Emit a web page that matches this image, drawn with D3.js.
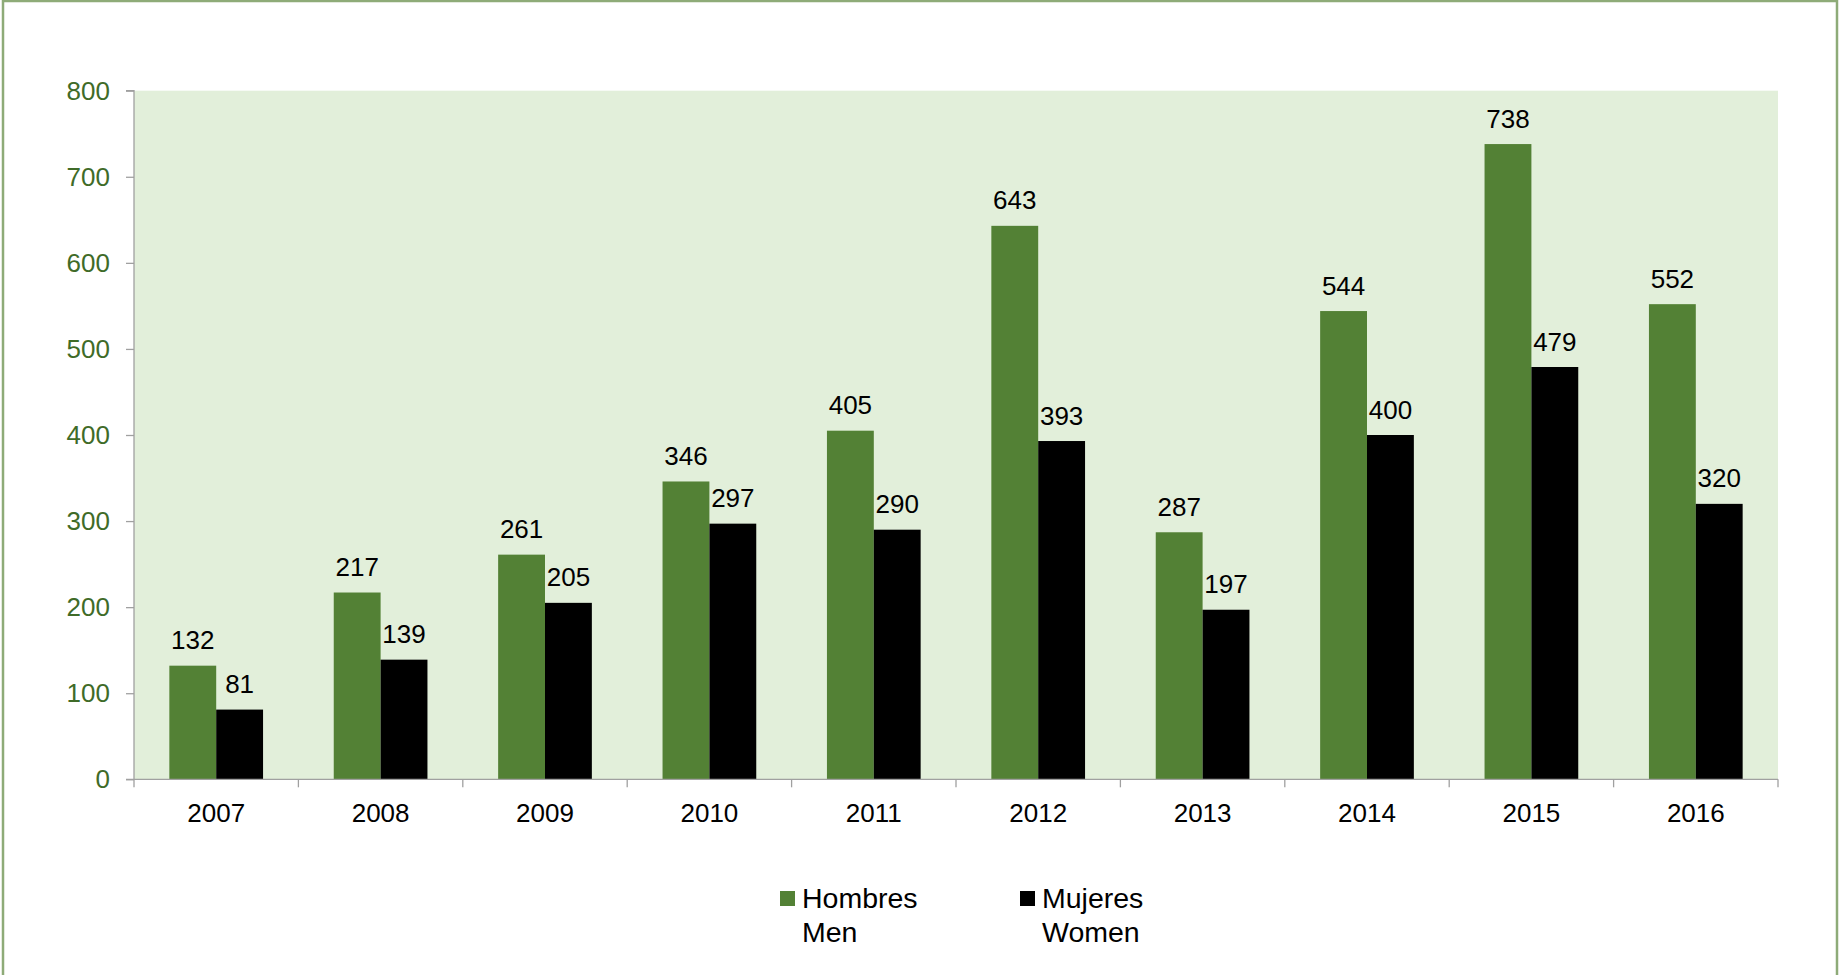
<!DOCTYPE html>
<html>
<head>
<meta charset="utf-8">
<script src="https://cdn.jsdelivr.net/npm/d3@7"></script>
<style>
html,body{margin:0;padding:0;background:#fff;}
svg{display:block;font-family:"Liberation Sans",Arial,sans-serif;}
</style>
</head>
<body>
<svg id="chart" width="1839" height="975"></svg>
<script>
const years = ["2007","2008","2009","2010","2011","2012","2013","2014","2015","2016"];
const men = [132,217,261,346,405,643,287,544,738,552];
const women = [81,139,205,297,290,393,197,400,479,320];
const yTicks = [0,100,200,300,400,500,600,700,800];
const seriesNames = [["Hombres","Men"],["Mujeres","Women"]];
const seriesColors = ["#538135","#000000"];

const svg = d3.select("#chart");
const W = 1839, H = 975;
const m = {left:134, right:1778, top:90.7, bottom:779.3};

// outer border
svg.append("rect").attr("x",3).attr("y",1).attr("width",1834).attr("height",990)
  .attr("fill","none").attr("stroke","#8eab78").attr("stroke-width",2.5);

// plot area background
svg.append("rect").attr("x",m.left).attr("y",m.top)
  .attr("width",m.right-m.left).attr("height",m.bottom-m.top).attr("fill","#e2efda");

const x = d3.scaleBand().domain(years).range([m.left,m.right]).paddingInner(0.43).paddingOuter(0.215);
const y = d3.scaleLinear().domain([0,800]).range([m.bottom,m.top]);
const bw = x.bandwidth()/2;

const data = years.map((yr,i)=>({yr, vals:[men[i],women[i]]}));

const g = svg.append("g");
data.forEach(d=>{
  d.vals.forEach((v,j)=>{
    const bx = x(d.yr)+j*bw;
    g.append("rect").attr("x",bx).attr("y",y(v)).attr("width",bw).attr("height",y(0)-y(v))
      .attr("fill",seriesColors[j]);
    g.append("text").attr("x",bx+bw/2).attr("y",y(v)-16.5).attr("text-anchor","middle")
      .attr("font-size",26).attr("fill","#000").text(v);
  });
});

// y axis
const yAxis = d3.axisLeft(y).tickValues(yTicks).tickSize(8).tickPadding(16).tickFormat(d3.format("d"));
const ya = svg.append("g").attr("transform",`translate(${m.left},0)`).call(yAxis);
ya.select(".domain").attr("stroke","#a0a0a0").attr("stroke-width",1.3).attr("d",`M-8,${m.top}H0V${m.bottom}H-8`);
ya.selectAll(".tick line").attr("stroke","#a0a0a0").attr("stroke-width",1.3);
ya.selectAll(".tick text").attr("font-size",26).attr("fill","#3f6b28")
  .attr("font-family","Liberation Sans, Arial, sans-serif").attr("dy","0.33em");

// x axis
const xAxis = d3.axisBottom(x).tickSize(0).tickPadding(24);
const xa = svg.append("g").attr("transform",`translate(0,${m.bottom})`).call(xAxis);
xa.select(".domain").attr("stroke","#a0a0a0").attr("stroke-width",1.3).attr("d",`M${m.left},0H${m.right}`);
xa.selectAll(".tick text").attr("font-size",26).attr("fill","#000")
  .attr("font-family","Liberation Sans, Arial, sans-serif").attr("dy","0.71em");
const step = x.step();
const bounds = d3.range(years.length+1).map(i=>m.left + i*(m.right-m.left)/years.length);
xa.selectAll(".bound").data(bounds).enter().append("line")
  .attr("x1",d=>d).attr("x2",d=>d).attr("y1",0).attr("y2",8)
  .attr("stroke","#a0a0a0").attr("stroke-width",1.3);

// legend
const legX = [780,1020];
seriesNames.forEach((nm,j)=>{
  const lg = svg.append("g");
  lg.append("rect").attr("x",legX[j]).attr("y",891).attr("width",15).attr("height",15).attr("fill",seriesColors[j]);
  lg.append("text").attr("x",legX[j]+22).attr("y",908).attr("font-size",28.5).attr("fill","#000").text(nm[0]);
  lg.append("text").attr("x",legX[j]+22).attr("y",941.5).attr("font-size",28.5).attr("fill","#000").text(nm[1]);
});
</script>
</body>
</html>
